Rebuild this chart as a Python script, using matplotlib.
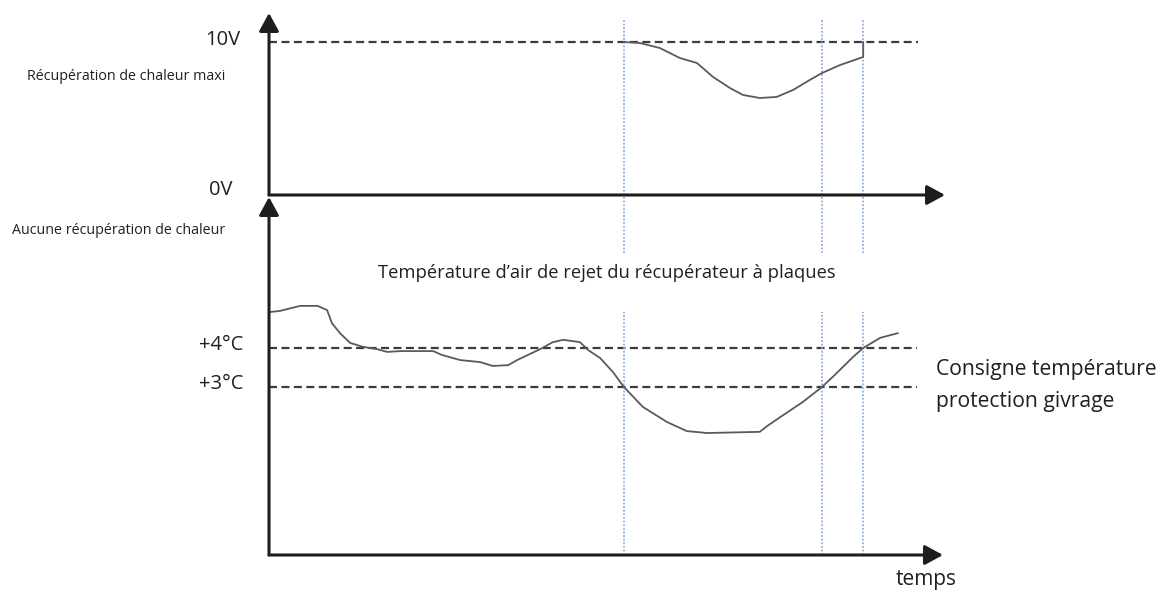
import matplotlib.pyplot as plt

W, H = 1171, 595
plt.rcParams['font.family'] = ['Open Sans', 'DejaVu Sans']

# time axis: 0..100 arbitrary units
events = [52.5, 81.8, 87.9]          # blue dotted markers
v_max = 10                           # 10V reference
t_limits = [4, 3]                    # +4 / +3 degC thresholds

# bypass / heat recovery signal (V)
sig_t = [52.5, 54.9, 57.8, 60.8, 63.3, 65.7, 68.2, 70.1, 72.6, 75.1, 77.5,
         80.0, 81.8, 84.5, 87.9, 87.9]
sig_v = [10.0, 9.93, 9.61, 8.95, 8.63, 7.71, 6.99, 6.54, 6.34, 6.41, 6.86,
         7.52, 7.97, 8.50, 9.02, 10.0]

# exhaust air temperature (degC)
temp_t = [0.0, 1.6, 4.6, 7.2, 8.6, 9.3, 10.5, 12.0, 13.9, 16.0, 17.5, 19.4,
          24.3, 25.6, 28.3, 31.2, 33.1, 35.4, 36.7, 40.1, 42.0, 43.5, 46.0,
          47.2, 49.0, 50.9, 52.5, 55.3, 58.9, 61.8, 64.8, 72.6, 73.7, 75.9,
          79.0, 81.8, 83.4, 86.4, 87.9, 90.4, 93.0]
temp_v = [4.92, 4.95, 5.08, 5.08, 4.97, 4.64, 4.38, 4.13, 4.03, 3.97, 3.90,
          3.92, 3.92, 3.82, 3.69, 3.64, 3.54, 3.56, 3.69, 3.97, 4.15, 4.21,
          4.15, 3.95, 3.74, 3.38, 3.00, 2.49, 2.10, 1.87, 1.82, 1.85, 2.00,
          2.26, 2.62, 3.00, 3.26, 3.77, 4.00, 4.26, 4.38]

TXT = '#231f20'
AXC = '#1e1e1e'
CURVE = '#5a5a5a'
DASH = '#3c3c3c'
BLUE = '#8fb0de'


def rect(x0, y0, x1, y1):
    # pixel box -> figure fraction [left, bottom, width, height]
    return [x0 / W, 1 - y1 / H, (x1 - x0) / W, (y1 - y0) / H]


fig = plt.figure(figsize=(W / 100, H / 100), dpi=100)

ax1 = fig.add_axes(rect(269, 13, 945, 195))
ax1.set_xlim(0, 100)
ax1.set_ylim(0, (195 - 13) / 15.3)
ax2 = fig.add_axes(rect(269, 197, 945, 555))
ax2.set_xlim(0, 100)
ax2.set_ylim(4 - 207 / 39, 4 + 151 / 39)

arrow = dict(arrowstyle='-|>,head_length=0.55,head_width=0.3', lw=2.2,
             color=AXC, shrinkA=0, shrinkB=0, mutation_scale=20)
for ax in (ax1, ax2):
    ax.axis('off')
    ax.patch.set_alpha(0)
    ax.annotate('', xy=(0, 1), xytext=(0, 0), xycoords='axes fraction',
                arrowprops=arrow)
ax1.annotate('', xy=(1, 0), xytext=(0, 0), xycoords='axes fraction',
             arrowprops=arrow)
ax2.annotate('', xy=(0.997, 0), xytext=(0, 0), xycoords='axes fraction',
             arrowprops=arrow)

dash = (0, (3.6, 2.0))
ax1.plot([0, 96], [v_max, v_max], color=DASH, lw=1.6, ls=dash)
for lv in t_limits:
    ax2.plot([0, 95.9], [lv, lv], color=DASH, lw=1.6, ls=dash)

dots = (0, (1, 1))
ax1.vlines(events, (195 - 253) / 15.3, (195 - 20) / 15.3, colors=BLUE,
           lw=1.3, linestyles=dots, clip_on=False)
ax2.vlines(events, 4 - 207 / 39, 4 + 36 / 39, colors=BLUE, lw=1.3,
           linestyles=dots)

ax1.plot(sig_t, sig_v, color=CURVE, lw=1.3)
ax2.plot(temp_t, temp_v, color=CURVE, lw=1.3)


def label(x, y, s, size, ha='left'):
    fig.text(x / W, 1 - y / H, s, fontsize=size, color=TXT, ha=ha, va='center')


label(240, 40, '10V', 14.5, 'right')
label(232, 190, '0V', 14.5, 'right')
label(225, 77, 'Récupération de chaleur maxi', 10.3, 'right')
label(225, 230, 'Aucune récupération de chaleur', 10.3, 'right')
label(607, 273, 'Température d’air de rejet du récupérateur à plaques', 13.2, 'center')
label(243, 345, '+4°C', 14.5, 'right')
label(243, 384, '+3°C', 14.5, 'right')
label(936, 370, 'Consigne température', 15.2)
label(936, 401, 'protection givrage', 15.2)
label(926, 579, 'temps', 15, 'center')

fig.savefig('out.png', dpi=100)
